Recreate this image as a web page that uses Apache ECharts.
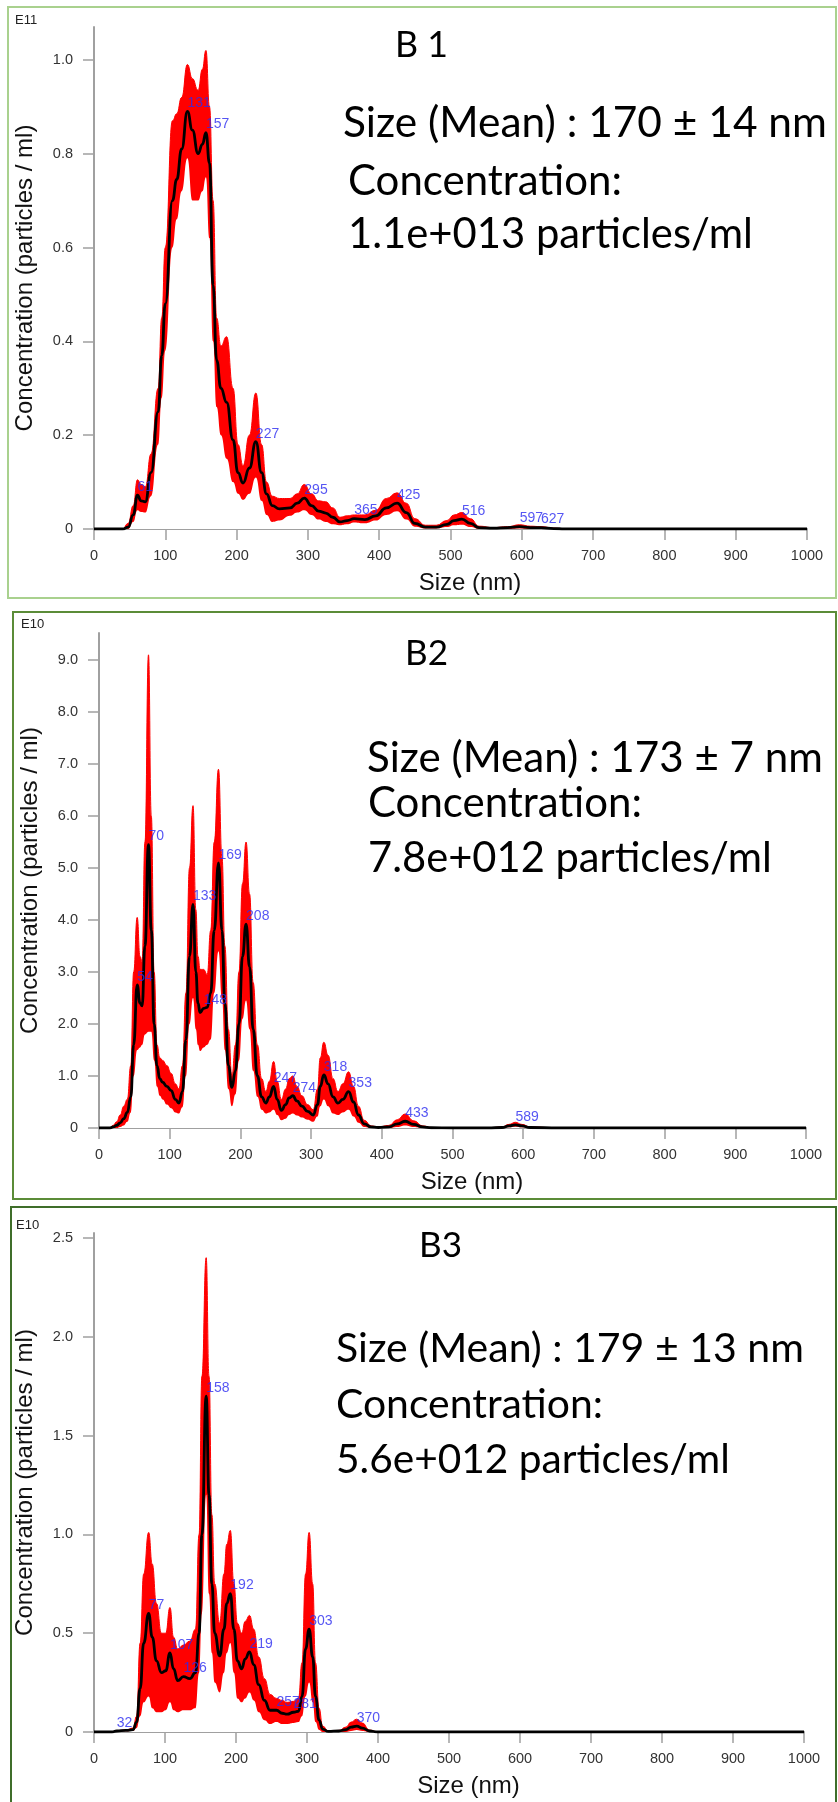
<!DOCTYPE html>
<html><head><meta charset="utf-8">
<script src="https://cdn.jsdelivr.net/npm/echarts@6/dist/echarts.min.js"></script>
<style>html,body{margin:0;padding:0;background:#fff}#c{width:838px;height:1802px}</style>
</head><body><div id="c"></div>
<script>
// ================= DATA =================
const xTicks = [0,100,200,300,400,500,600,700,800,900,1000];

// ---- B1 (E11) ----
const b1Size  = [0,40,48,55,61,66,72,80,90,95,100,110,116,123,131,138,146,152,157,162,167,172,178,186,195,202,209,218,227,235,242,250,260,275,285,295,305,315,325,335,345,355,365,380,395,410,425,438,450,465,480,495,505,516,528,540,560,580,597,612,627,645,660,700,800,900,1000];
const b1Mean  = [0,0,0.004,0.03,0.072,0.06,0.058,0.12,0.25,0.37,0.48,0.70,0.745,0.81,0.89,0.85,0.80,0.82,0.845,0.78,0.52,0.36,0.30,0.27,0.19,0.12,0.098,0.13,0.186,0.12,0.075,0.05,0.043,0.045,0.055,0.066,0.05,0.038,0.034,0.025,0.015,0.018,0.022,0.02,0.028,0.045,0.055,0.035,0.012,0.004,0.004,0.01,0.018,0.021,0.012,0.003,0.002,0.003,0.005,0.003,0.003,0.001,0,0,0,0,0];
const b1Upper = [0,0,0.012,0.05,0.105,0.095,0.09,0.16,0.30,0.45,0.60,0.87,0.885,0.92,0.99,0.96,0.935,0.98,1.02,0.90,0.70,0.45,0.39,0.41,0.30,0.18,0.135,0.20,0.29,0.18,0.10,0.07,0.065,0.065,0.075,0.095,0.075,0.06,0.058,0.045,0.025,0.028,0.03,0.03,0.04,0.065,0.077,0.055,0.022,0.008,0.008,0.018,0.03,0.035,0.022,0.006,0.003,0.005,0.009,0.006,0.005,0.002,0,0,0,0,0];
const b1Lower = [0,0,0,0.015,0.04,0.036,0.035,0.07,0.18,0.28,0.38,0.60,0.66,0.72,0.79,0.70,0.70,0.72,0.75,0.62,0.40,0.26,0.20,0.15,0.10,0.075,0.062,0.075,0.11,0.06,0.03,0.015,0.018,0.028,0.035,0.04,0.03,0.02,0.015,0.01,0.008,0.01,0.014,0.012,0.018,0.03,0.038,0.02,0.005,0.001,0.001,0.004,0.008,0.009,0.004,0,0,0,0.001,0,0,0,0,0,0,0,0];
const b1PeakSize = [61,131,157,227,295,365,425,516,597,627];
const b1PeakConc = [0.072,0.89,0.845,0.186,0.066,0.022,0.055,0.021,0.005,0.003];
const b1YTicks = [0,0.2,0.4,0.6,0.8,1.0];

// ---- B2 (E10) ----
const b2Size  = [0,15,20,25,30,35,40,45,49,54,58,61,65,70,74,78,82,86,90,96,102,108,113,118,123,128,133,137,140,143,148,153,158,163,169,174,178,183,188,193,198,203,208,213,218,224,230,236,241,247,252,258,264,269,274,280,287,295,303,309,313,318,324,331,338,345,353,360,367,375,385,395,410,422,433,445,458,470,500,550,570,580,589,598,610,650,800,1000];
const b2Mean  = [0,0,0.02,0.05,0.1,0.18,0.3,0.6,1.6,2.75,2.4,2.35,3.5,5.45,3.8,2.0,1.2,0.95,0.88,0.8,0.72,0.55,0.48,0.7,1.7,3.3,4.3,3.0,2.4,2.22,2.3,2.32,2.6,3.8,5.1,3.8,2.4,1.2,0.78,1.1,2.0,3.3,3.92,3.1,1.9,1.0,0.6,0.48,0.6,0.8,0.55,0.34,0.45,0.58,0.62,0.52,0.42,0.32,0.25,0.45,0.8,1.02,0.85,0.6,0.48,0.55,0.7,0.5,0.25,0.08,0.02,0.01,0.02,0.08,0.13,0.07,0.02,0.005,0,0,0.01,0.04,0.06,0.04,0.01,0,0,0];
const b2Upper = [0,0,0.05,0.12,0.25,0.42,0.55,1.2,3.0,4.05,3.3,3.2,5.5,9.1,6.0,3.0,1.6,1.35,1.3,1.2,1.05,0.85,0.75,1.2,2.6,5.0,6.2,4.2,3.3,3.05,3.05,2.95,3.8,5.5,6.9,5.2,3.5,1.9,1.0,1.6,3.0,4.7,5.5,4.5,2.8,1.6,0.95,0.7,0.9,1.28,0.9,0.55,0.75,0.95,1.0,0.8,0.62,0.45,0.35,0.75,1.35,1.65,1.4,0.95,0.7,0.85,1.08,0.8,0.42,0.15,0.04,0.02,0.05,0.16,0.27,0.14,0.04,0.01,0,0,0.02,0.07,0.11,0.07,0.02,0,0,0];
const b2Lower = [0,0,0,0,0.02,0.05,0.12,0.3,1.0,1.5,1.55,1.6,1.8,1.85,1.85,1.3,0.8,0.62,0.55,0.45,0.38,0.3,0.28,0.4,1.0,2.0,2.5,1.9,1.6,1.48,1.55,1.6,1.7,2.6,3.4,2.5,1.5,0.75,0.42,0.65,1.3,2.1,2.45,1.9,1.1,0.6,0.35,0.28,0.3,0.35,0.25,0.15,0.18,0.25,0.28,0.24,0.2,0.16,0.12,0.22,0.42,0.55,0.42,0.28,0.25,0.3,0.35,0.22,0.1,0.02,0,0,0,0.02,0.05,0.02,0,0,0,0,0,0.015,0.025,0.015,0,0,0,0];
const b2PeakSize = [54,70,133,148,169,208,247,274,318,353,433,589];
const b2PeakConc = [2.75,5.45,4.3,2.3,5.1,3.92,0.8,0.62,1.02,0.7,0.13,0.06];
const b2YTicks = [0,1,2,3,4,5,6,7,8,9];

// ---- B3 (E10) ----
const b3Size  = [0,25,32,45,55,60,65,70,77,82,88,95,101,107,112,118,126,135,143,148,152,158,162,166,170,177,183,187,192,197,202,208,213,219,225,232,240,248,257,265,272,281,288,293,298,303,308,312,317,322,330,345,355,362,370,378,388,400,1000];
const b3Mean  = [0,0,0.005,0.008,0.012,0.05,0.22,0.45,0.6,0.48,0.36,0.3,0.31,0.4,0.32,0.26,0.28,0.27,0.3,0.5,1.0,1.7,1.2,0.75,0.5,0.385,0.52,0.65,0.7,0.52,0.36,0.32,0.37,0.405,0.34,0.24,0.16,0.11,0.11,0.095,0.09,0.1,0.105,0.18,0.42,0.52,0.38,0.18,0.06,0.015,0.003,0.005,0.012,0.025,0.03,0.02,0.005,0,0];
const b3Upper = [0,0,0.007,0.01,0.02,0.08,0.45,0.8,1.01,0.85,0.65,0.5,0.5,0.63,0.48,0.42,0.44,0.46,0.52,1.0,1.8,2.4,1.8,1.1,0.75,0.55,0.8,0.95,1.02,0.75,0.55,0.5,0.56,0.59,0.52,0.38,0.27,0.19,0.17,0.16,0.15,0.155,0.17,0.35,0.8,1.01,0.75,0.35,0.12,0.03,0.005,0.008,0.025,0.05,0.065,0.045,0.01,0,0];
const b3Lower = [0,0,0.002,0.004,0.005,0.02,0.08,0.15,0.18,0.12,0.1,0.1,0.11,0.15,0.11,0.1,0.11,0.11,0.12,0.3,0.6,1.2,0.7,0.4,0.25,0.2,0.3,0.4,0.45,0.3,0.17,0.15,0.17,0.2,0.16,0.1,0.06,0.04,0.05,0.04,0.04,0.045,0.05,0.08,0.18,0.25,0.15,0.05,0.01,0,0,0,0,0.005,0.01,0.005,0,0,0];
const b3PeakSize = [32,77,107,126,158,192,219,257,281,303,370];
const b3PeakConc = [0.005,0.6,0.4,0.28,1.7,0.7,0.405,0.11,0.1,0.52,0.03];
const b3YTicks = [0,0.5,1.0,1.5,2.0,2.5];

// ---- texts ----
const titles = ['B 1','B2','B3'];
const exponents = ['E11','E10','E10'];
const b1Stats = ['Size (Mean) : 170 \u00b1 14 nm','Concentration:','1.1e+013 particles/ml'];
const b2Stats = ['Size (Mean) : 173 \u00b1 7 nm','Concentration:','7.8e+012 particles/ml'];
const b3Stats = ['Size (Mean) : 179 \u00b1 13 nm','Concentration:','5.6e+012 particles/ml'];
const xName = 'Size (nm)';
const yName = 'Concentration (particles / ml)';

// ================= LAYOUT =================
const layout = [
  {grid:{left:94, top:27, width:713, height:502}, yMax:1.07,
   border:{x:8,y:7,w:828,h:591,color:'#a9d18e'}, exp:{x:15,y:20},
   title:{x:395,base:57,w:53},
   lines:[{x:343,base:137,w:484},{x:348,base:195,w:274},{x:348,base:248,w:405}]},
  {grid:{left:99, top:633, width:707, height:495}, yMax:9.52,
   border:{x:13,y:612,w:823,h:587,color:'#5b8c38'}, exp:{x:21,y:624.5},
   title:{x:405,base:665,w:43},
   lines:[{x:367,base:772,w:456},{x:368,base:817,w:274},{x:368,base:872,w:404}]},
  {grid:{left:94, top:1233, width:710, height:499}, yMax:2.525,
   border:{x:11,y:1207,w:825,h:640,color:'#3f6e2a'}, exp:{x:16,y:1225.5},
   title:{x:419,base:1257,w:43},
   lines:[{x:336,base:1362,w:468},{x:336,base:1418,w:267},{x:336,base:1473,w:394}]}
];

const panels = [
  {size:b1Size, mean:b1Mean, upper:b1Upper, lower:b1Lower, pk:b1PeakSize, pc:b1PeakConc, yt:b1YTicks, stats:b1Stats},
  {size:b2Size, mean:b2Mean, upper:b2Upper, lower:b2Lower, pk:b2PeakSize, pc:b2PeakConc, yt:b2YTicks, stats:b2Stats},
  {size:b3Size, mean:b3Mean, upper:b3Upper, lower:b3Lower, pk:b3PeakSize, pc:b3PeakConc, yt:b3YTicks, stats:b3Stats}
];

const annFam = "Lato, 'Open Sans', sans-serif";
const axFam = "'Liberation Sans', Arial, Helvetica, sans-serif";
const axisGrey = '#a0a0a0';
const SMOOTH = 0.5;

const mctx = document.createElement('canvas').getContext('2d');
function fitSize(text, fam, w){ mctx.font = '100px ' + fam; return 100 * w / mctx.measureText(text).width; }
function midOffset(size, fam){
  mctx.font = size + 'px ' + fam;
  mctx.textBaseline = 'alphabetic';
  const a = mctx.measureText('H').fontBoundingBoxAscent;
  mctx.textBaseline = 'middle';
  const b = mctx.measureText('H').fontBoundingBoxAscent;
  mctx.textBaseline = 'alphabetic';
  const d = a - b;
  return (typeof d === 'number' && isFinite(d)) ? d : 0.35 * size;
}
function annText(text, x, base, w){
  const s = fitSize(text, annFam, w);
  return {type:'text', z:20, style:{text:text, x:x, y:base - midOffset(s, annFam), font: s.toFixed(2)+'px '+annFam, fill:'#000', align:'left', verticalAlign:'middle'}};
}
const pairs = (xs, ys) => xs.map((x, i) => [x, ys[i]]);

const grids = [], xAxes = [], yAxes = [], series = [], graphics = [];
panels.forEach((p, i) => {
  const L = layout[i];
  grids.push(Object.assign({outerBoundsMode:'none', containLabel:false}, L.grid));
  xAxes.push({
    type:'value', gridIndex:i, min:0, max:1000, interval:100,
    axisLine:{show:true, onZero:false, lineStyle:{color:axisGrey, width:2}},
    axisTick:{show:true, length:11, customValues:xTicks, lineStyle:{color:axisGrey, width:1.5}},
    axisLabel:{margin:19, fontSize:14.5, color:'#333', fontFamily:axFam, customValues:xTicks,
      formatter: v => String(v)},
    splitLine:{show:false},
    name:xName, nameLocation:'middle', nameGap:42,
    nameTextStyle:{fontSize:24, color:'#111', fontFamily:axFam, padding:[0,0,0,39]}
  });
  yAxes.push({
    type:'value', gridIndex:i, min:0, max:L.yMax,
    axisLine:{show:true, lineStyle:{color:axisGrey, width:2}},
    axisTick:{show:true, length:11, customValues:p.yt, lineStyle:{color:axisGrey, width:1.5}},
    axisLabel:{margin:21, fontSize:14.5, color:'#333', fontFamily:axFam, customValues:p.yt,
      formatter: v => (v === 0 ? '0' : v.toFixed(1))},
    splitLine:{show:false},
    name:yName, nameLocation:'middle', nameRotate:90, nameGap:57,
    nameTextStyle:{fontSize:24, color:'#111', fontFamily:axFam}
  });
  // upper edge of the error band, filled red down to the axis
  series.push({type:'line', name:titles[i]+' upper', xAxisIndex:i, yAxisIndex:i,
    data:pairs(p.size, p.upper), symbol:'none', smooth:SMOOTH, smoothMonotone:'x',
    lineStyle:{width:1, color:'#ff0000'}, areaStyle:{color:'#ff0000', opacity:1}, silent:true, z:2});
  // lower edge of the error band: the region beneath it is cleared back to the white background
  series.push({type:'line', name:titles[i]+' lower', xAxisIndex:i, yAxisIndex:i,
    data:pairs(p.size, p.lower), symbol:'none', smooth:SMOOTH, smoothMonotone:'x',
    lineStyle:{width:0, color:'#ffffff'}, areaStyle:{color:'#ffffff', opacity:1}, silent:true, z:3});
  series.push({type:'line', name:titles[i]+' mean', xAxisIndex:i, yAxisIndex:i,
    data:pairs(p.size, p.mean), symbol:'none', smooth:SMOOTH, smoothMonotone:'x',
    lineStyle:{width:2.8, color:'#000'}, silent:true, z:4});
  series.push({type:'scatter', name:titles[i]+' peaks', xAxisIndex:i, yAxisIndex:i,
    data:pairs(p.pk, p.pc), symbol:'circle', symbolSize:0.1, itemStyle:{color:'rgba(0,0,0,0)'},
    label:{show:true, position:'top', distance:1, align:'left', color:'#2b2bf0', fontSize:14, fontFamily:axFam,
      formatter: d => String(d.value[0])}, silent:true, z:5});

  graphics.push({type:'rect', z:1, shape:{x:L.border.x, y:L.border.y, width:L.border.w, height:L.border.h},
    style:{fill:'none', stroke:L.border.color, lineWidth:2}});
  graphics.push({type:'text', z:20, style:{text:exponents[i], x:L.exp.x, y:L.exp.y, font:'13px '+axFam, fill:'#222', align:'left', verticalAlign:'middle'}});
  graphics.push(annText(titles[i], L.title.x, L.title.base, L.title.w));
  p.stats.forEach((t, k) => graphics.push(annText(t, L.lines[k].x, L.lines[k].base, L.lines[k].w)));
});

const chart = echarts.init(document.getElementById('c'), null, {renderer:'canvas'});
chart.setOption({
  animation:false,
  backgroundColor:'#fff',
  grid:grids, xAxis:xAxes, yAxis:yAxes, series:series, graphic:graphics
});
</script>
</body></html>
